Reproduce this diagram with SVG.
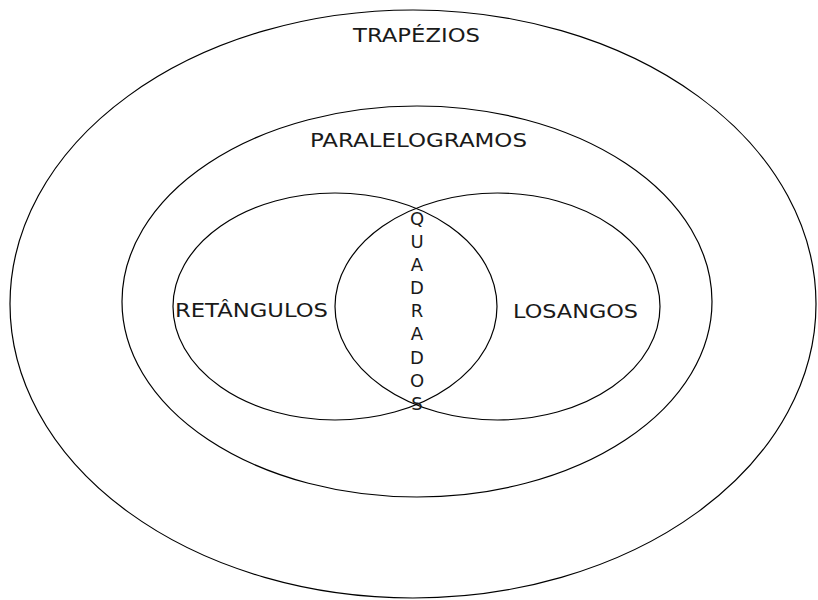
<svg xmlns="http://www.w3.org/2000/svg" width="818" height="600" viewBox="0 0 818 600">
<style>
.e{fill:none;stroke:#000;stroke-width:1.2}
.t{font-family:"DejaVu Sans","Liberation Sans",sans-serif;font-size:19px;fill:#1a1a1a}
.q{font-family:"DejaVu Sans","Liberation Sans",sans-serif;font-size:18px;fill:#1a1a1a;text-anchor:middle}
</style>
<rect width="818" height="600" fill="#fff"/>
<g id="trapezios">
<ellipse class="e" cx="413" cy="304" rx="403" ry="294"/>
<text class="t" x="353" y="42" textLength="127" lengthAdjust="spacingAndGlyphs">TRAPÉZIOS</text>
</g>
<g id="paralelogramos">
<ellipse class="e" cx="417" cy="301.5" rx="295" ry="195.5"/>
<text class="t" x="310" y="147" textLength="217" lengthAdjust="spacingAndGlyphs">PARALELOGRAMOS</text>
</g>
<g id="retangulos">
<ellipse class="e" cx="335" cy="306.5" rx="162" ry="113.5"/>
<text class="t" x="175" y="317" textLength="153" lengthAdjust="spacingAndGlyphs">RETÂNGULOS</text>
</g>
<g id="losangos">
<ellipse class="e" cx="497.5" cy="306.5" rx="162.5" ry="113.5"/>
<text class="t" x="513" y="318" textLength="125" lengthAdjust="spacingAndGlyphs">LOSANGOS</text>
</g>
<g id="quadrados">
<text class="q" x="417" y="225">Q</text>
<text class="q" x="417" y="248">U</text>
<text class="q" x="417" y="271">A</text>
<text class="q" x="417" y="294">D</text>
<text class="q" x="417" y="317">R</text>
<text class="q" x="417" y="340">A</text>
<text class="q" x="417" y="364">D</text>
<text class="q" x="417" y="387">O</text>
<text class="q" x="417" y="410">S</text>
</g>
<g id="connectors"/>
</svg>
